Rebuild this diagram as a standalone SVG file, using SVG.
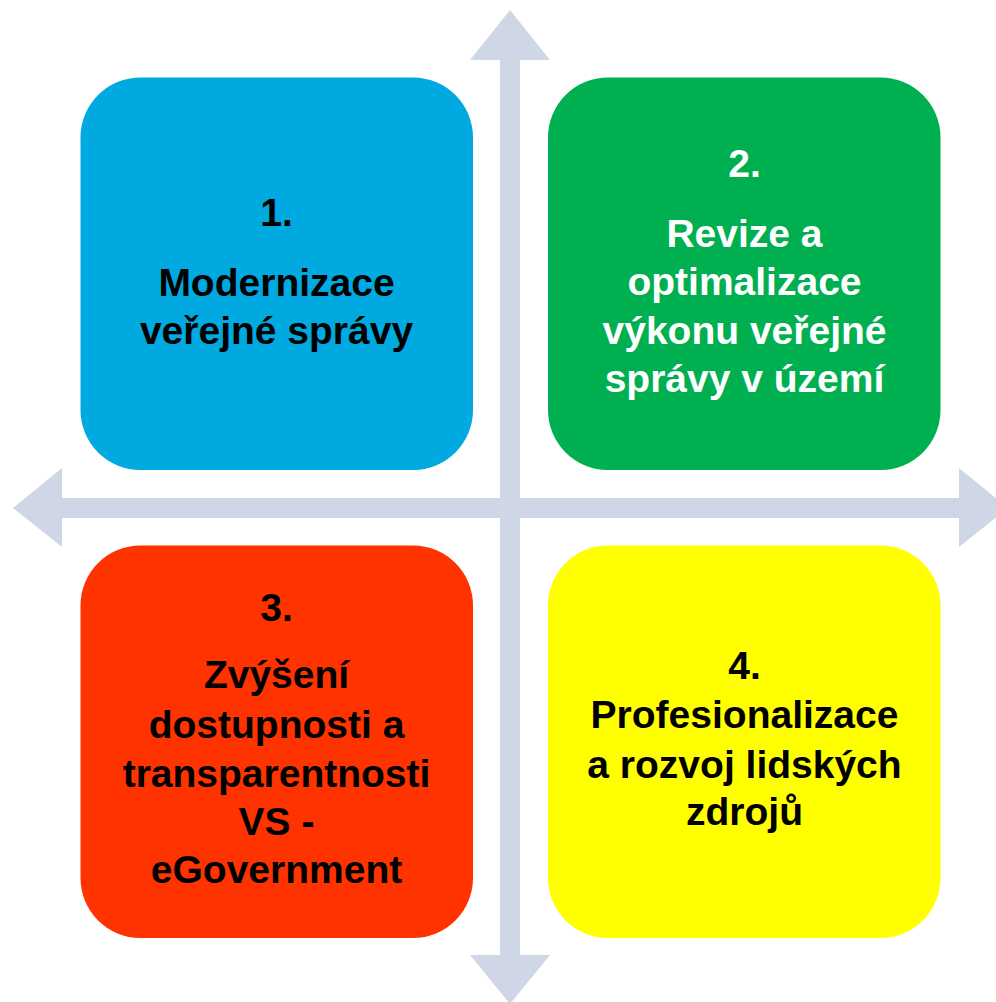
<svg xmlns="http://www.w3.org/2000/svg" width="996" height="1002" viewBox="0 0 996 1002">
<style>
.box{stroke:none}
.t{font-family:"Liberation Sans",Arial,sans-serif;font-weight:bold;font-size:39px;text-anchor:middle}
.dark{fill:#000000}
.light{fill:#FFFFFF}
.arrow{fill:#CFD6E6;stroke:none}
</style>
<rect width="996" height="1002" fill="#FFFFFF"/>
<g id="connectors">
<polygon class="arrow" points="510,10 550,60 520,60 520,955 550,955 510,1004 470,955 500,955 500,60 470,60"/>
<polygon class="arrow" points="13,508 62,468 62,498 959,498 959,468 1008,508 959,547 959,518 62,518 62,547"/>
</g>
<g id="node1">
<rect class="box" x="80.5" y="77.5" width="392.5" height="392.5" rx="60" fill="#00A9E0"/>
<text class="t dark" x="276.5" y="226">1.</text>
<text class="t dark" x="276.5" y="296">Modernizace</text>
<text class="t dark" x="276.5" y="344">veřejné správy</text>
</g>
<g id="node2">
<rect class="box" x="548" y="77.5" width="392.5" height="392.5" rx="60" fill="#00B050"/>
<text class="t light" x="744.5" y="177">2.</text>
<text class="t light" x="744.5" y="247">Revize a</text>
<text class="t light" x="744.5" y="295">optimalizace</text>
<text class="t light" x="744.5" y="344">výkonu veřejné</text>
<text class="t light" x="744.5" y="392">správy v území</text>
</g>
<g id="node3">
<rect class="box" x="80.5" y="545.5" width="392.5" height="392.5" rx="60" fill="#FF3300"/>
<text class="t dark" x="276.5" y="621">3.</text>
<text class="t dark" x="276.5" y="688">Zvýšení</text>
<text class="t dark" x="276.5" y="738">dostupnosti a</text>
<text class="t dark" x="276.5" y="787">transparentnosti</text>
<text class="t dark" x="276.5" y="835">VS -</text>
<text class="t dark" x="276.5" y="883">eGovernment</text>
</g>
<g id="node4">
<rect class="box" x="548" y="545.5" width="392.5" height="392.5" rx="60" fill="#FFFF00"/>
<text class="t dark" x="744.5" y="679">4.</text>
<text class="t dark" x="744.5" y="728">Profesionalizace</text>
<text class="t dark" x="744.5" y="778">a rozvoj lidských</text>
<text class="t dark" x="744.5" y="825">zdrojů</text>
</g>
</svg>
